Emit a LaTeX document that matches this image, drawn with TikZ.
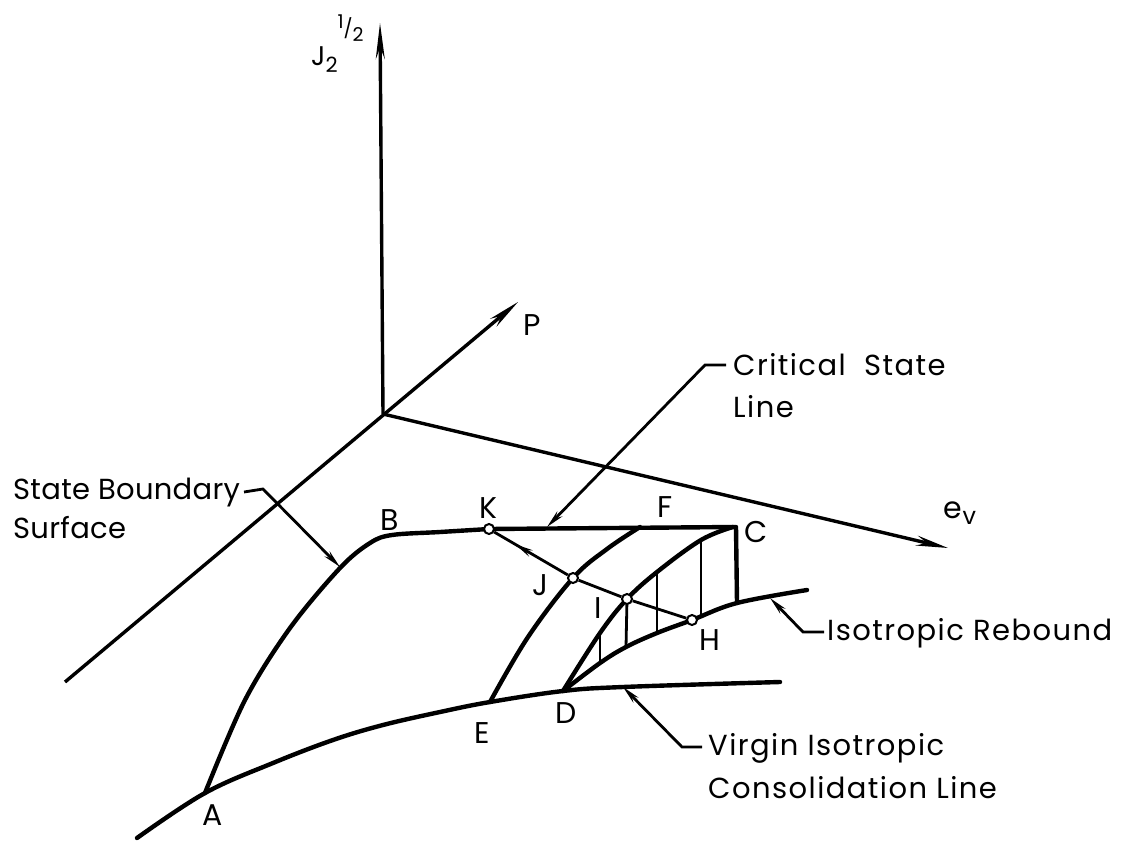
\documentclass[tikz,border=0pt]{standalone}
\usepackage{fontspec}
\setmainfont{Poppins}
\newfontfamily\notefont[LetterSpace=5]{Poppins}
\newfontfamily\notefonttight[LetterSpace=1]{Poppins}
\usetikzlibrary{arrows.meta,decorations.markings}

\tikzset{
  axisline/.style={line width=3.4pt},
  curveline/.style={line width=4.4pt, line cap=round, line join=round},
  leaderline/.style={line width=2.8pt, -{Stealth[length=18pt,width=7pt]}},
  hatchline/.style={line width=2.8pt},
  statept/.style={circle, draw, line width=2pt, fill=white, inner sep=0pt, minimum size=10pt},
  ptlabel/.style={inner sep=0pt, font=\fontsize{30}{34}\selectfont},
  notetext/.style={inner sep=0pt, anchor=west, font=\notefont\fontsize{29}{34}\selectfont},
}

\begin{document}
\begin{tikzpicture}[x=1pt, y=-1pt]
  \useasboundingbox (0,0) rectangle (1142,840);

  % ==== AXES ====
  \coordinate (O) at (383,414);
  \coordinate (Jtop) at (380,23);
  \coordinate (Ptip) at (518,302);
  \coordinate (Pback) at (65,682);
  \coordinate (evtip) at (948,548);
  \draw[axisline, -{Stealth[length=36pt,width=9pt]}] (O) -- (Jtop);
  \draw[axisline, -{Stealth[length=32pt,width=10pt]}] (Pback) -- (Ptip);
  \draw[axisline, -{Stealth[length=32pt,width=10pt]}] (O) -- (evtip);

  % ==== POINTS ====
  \coordinate (cA) at (205,793);
  \coordinate (cB) at (392,535);
  \coordinate (cC) at (736,527);
  \coordinate (cD) at (563,691);
  \coordinate (cE) at (490,702);
  \coordinate (cF) at (640,527);
  \coordinate (cK) at (489,529);
  \coordinate (cJ) at (573,578);
  \coordinate (cI) at (627,599);
  \coordinate (cH) at (692,620);

  % ==== VIRGIN ISOTROPIC CONSOLIDATION LINE ====
  \draw[curveline] plot[smooth, tension=0.6] coordinates
    {(137,838) (cA) (273,763) (333,740) (383,725) (440,712) (cE) (cD) (623,687) (780,682)};

  % ==== STATE BOUNDARY SURFACE ====
  \draw[curveline] plot[smooth, tension=0.55] coordinates
    {(cA) (245,700) (290,628) (340,568) (370,543) (cB) (440,532) (cK)}
    -- (cC) -- (737,603);

  % ==== E TO F ====
  \draw[curveline] plot[smooth, tension=0.6] coordinates
    {(cE) (528,637) (cJ) (607,549) (cF)};

  % ==== D TO C ====
  \draw[curveline] plot[smooth, tension=0.6] coordinates
    {(cD) (600,633) (cI) (657,572) (701,540) (733,527)};

  % ==== ISOTROPIC REBOUND ====
  \draw[curveline] plot[smooth, tension=0.6] coordinates
    {(cD) (600,663) (626,647) (657,633) (cH) (737,603) (807,590)};

  % ==== HATCHING ====
  \draw[hatchline] (600,633) -- (600,663);
  \draw[hatchline] (cI) -- (626,647);
  \draw[hatchline] (657,572) -- (657,633);
  \draw[hatchline] (701,540) -- (701,617);

  % ==== PATH H I J K ====
  \node[statept] (K) at (cK) {};
  \node[statept] (J) at (cJ) {};
  \node[statept] (I) at (cI) {};
  \node[statept] (H) at (cH) {};
  \draw[line width=2.8pt] (H) -- (I) -- (J);
  \draw[line width=2.8pt, postaction={decorate},
    decoration={markings, mark=at position 0.72 with {\arrow{Stealth[length=18pt,width=7pt]}}}]
    (J) -- (K);

  % ==== LEADERS ====
  \coordinate (sbsend) at (340,567);
  \coordinate (cslend) at (547,527);
  \coordinate (rbend) at (770,598);
  \coordinate (vicend) at (623,687);
  \draw[leaderline] (244,492) -- (263,489) -- (sbsend);
  \draw[leaderline] (726,365) -- (705,365) -- (cslend);
  \draw[leaderline] (824,632) -- (803,632) -- (rbend);
  \draw[leaderline] (702,747) -- (682,747) -- (vicend);

  % ==== AXIS LABELS ====
  \node[inner sep=0pt, anchor=base west, font=\fontsize{27}{30}\selectfont] (lblJ) at (311,66)
    {J\raisebox{-7pt}{\fontsize{21}{22}\selectfont 2}\raisebox{24pt}{\fontsize{19}{20}\selectfont\raisebox{13pt}{1}\raisebox{6pt}{/}2}};
  \node[ptlabel] (lblP) at (532,325) {P};
  \node[ptlabel] (lblev) at (960,513) {e\raisebox{-6pt}{\fontsize{24}{26}\selectfont v}};

  % ==== POINT LABELS ====
  \node[ptlabel] (lblA) at (213,815) {A};
  \node[ptlabel] (lblB) at (390,520) {B};
  \node[ptlabel] (lblC) at (756,532) {C};
  \node[ptlabel] (lblD) at (566,713) {D};
  \node[ptlabel] (lblE) at (482,733) {E};
  \node[ptlabel] (lblF) at (665,507) {F};
  \node[ptlabel] (lblH) at (710,640) {H};
  \node[ptlabel] (lblI) at (598,608) {I};
  \node[ptlabel] (lblJp) at (540,585) {J};
  \node[ptlabel] (lblK) at (488,508) {K};

  % ==== NOTES ====
  \node[notetext, font=\notefonttight\fontsize{29}{34}\selectfont] (sbs1) at (13,493) {State Boundary};
  \node[notetext, font=\notefonttight\fontsize{29}{34}\selectfont] (sbs2) at (13,528) {Surface};
  \node[notetext] (csl1) at (733,365) {Critical\ \ State};
  \node[notetext] (csl2) at (733,407) {Line};
  \node[notetext] (rb) at (827,633) {Isotropic Rebound};
  \node[notetext] (vic1) at (708,748) {Virgin Isotropic};
  \node[notetext] (vic2) at (708,788) {Consolidation Line};
\end{tikzpicture}
\end{document}
